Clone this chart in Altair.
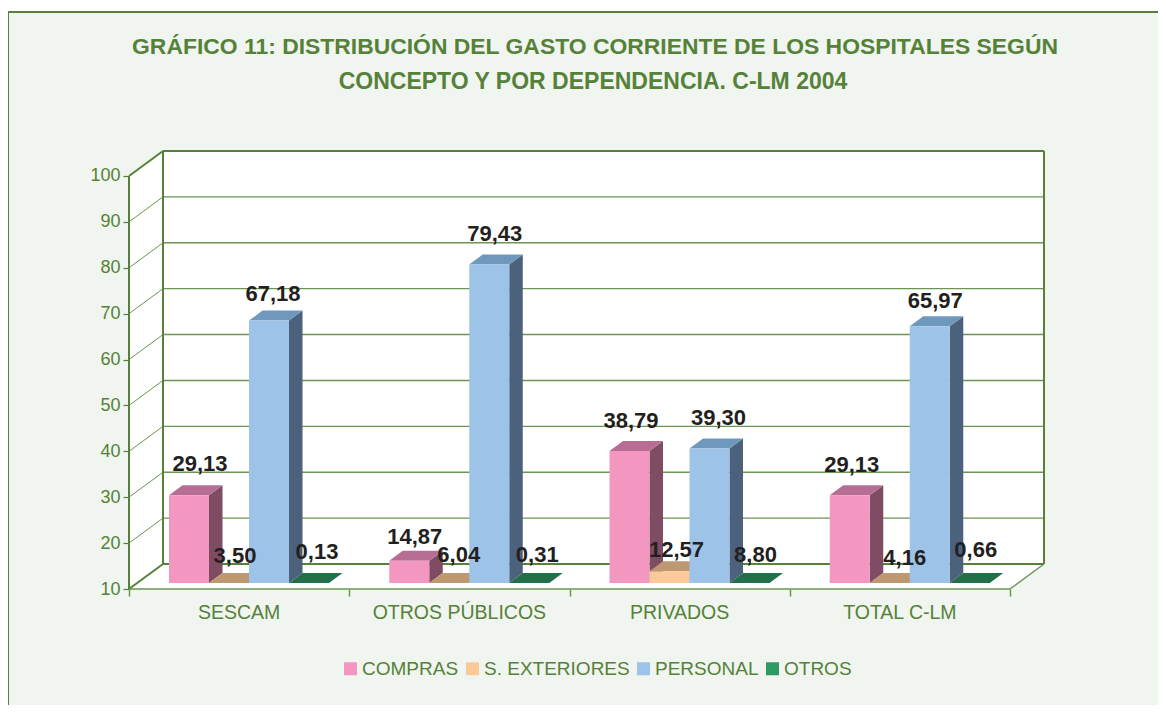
import altair as alt
import pandas as pd

# ---- values
CATEGORIES = ["SESCAM", "OTROS PÚBLICOS", "PRIVADOS", "TOTAL C-LM"]
SERIES = ["COMPRAS", "S. EXTERIORES", "PERSONAL", "OTROS"]
COMPRAS = [29.13, 14.87, 38.79, 29.13]
EXTERIORES = [3.50, 6.04, 12.57, 4.16]
PERSONAL = [67.18, 79.43, 39.30, 65.97]
OTROS = [0.13, 0.31, 8.80, 0.66]
VALUES = [COMPRAS, EXTERIORES, PERSONAL, OTROS]
Y_TICKS = [10, 20, 30, 40, 50, 60, 70, 80, 90, 100]
TITLE_LINES = ["GRÁFICO 11: DISTRIBUCIÓN DEL GASTO CORRIENTE DE LOS HOSPITALES SEGÚN",
               "CONCEPTO Y POR DEPENDENCIA. C-LM 2004"]

# ---- style
FRONT = ["#F497C0", "#FDC998", "#9DC3E8", "#2E9963"]
SIDE = ["#7F4D63", "#8F6F50", "#4B617C", "#1B5C3C"]
TOP = ["#B76E94", "#BE9870", "#6F98BD", "#217049"]
GREEN = "#558139"
GRID = "#6C9452"
BG = "#F0F5EF"
INK = "#231F20"
FONT = "Liberation Sans"
W, H = 1150, 693
PX_X, PX_Y = 220.25, 4.589      # pixels per category / per value unit
WALL_DX, WALL_DY = 34 / PX_X, 25 / PX_Y
BAR_W, BAR_START = 40 / PX_X, 40 / PX_X
DEPTH_DX, DEPTH_DY = 13.5 / PX_X, 10 / PX_Y
BASE = 10
BAR_LIFT = 6 / PX_Y
LABEL_DX = [[11, 5.5, 1.5, 2], [6, 9.5, 7, 15], [4, 5.5, 9, 5.5], [8, 8, 6, 6]]
LABEL_UP = [[30, 23, 29, 29], [26, 27, 20, 24], [26, 29, 30, 24], [30, 27, 27, 32]]

xs = alt.Scale(domain=[-121 / PX_X, (8 + W - 129) / PX_X], range=[0, W], nice=False, zero=False)
ys = alt.Scale(domain=[10 - (12 + H - 589) / PX_Y, 100 + (176 - 12) / PX_Y], range=[H, 0], nice=False, zero=False)

xaxis = alt.Axis(values=[0, 1, 2, 3, 4], labels=False, domain=False, grid=False, ticks=True,
                 tickColor=GRID, tickSize=7, tickWidth=1.5, offset=-(12 + H - 589), title=None)
yaxis = alt.Axis(values=Y_TICKS, domain=False, grid=False, tickColor=GREEN, tickSize=6, tickWidth=1.2,
                 labelColor=GREEN, labelFont=FONT, labelFontSize=18, labelPadding=3,
                 offset=-121, title=None, labelFlush=False, labelOverlap=False)


def X(f="x"):
    return alt.X(f"{f}:Q", scale=xs, axis=xaxis, title=None)


def Y(f="y"):
    return alt.Y(f"{f}:Q", scale=ys, axis=yaxis, title=None)


def rules(rows, color, width):
    return alt.Chart(pd.DataFrame(rows, columns=["x", "x2", "y", "y2"])).mark_rule(
        color=color, strokeWidth=width
    ).encode(x=X(), x2="x2:Q", y=Y(), y2="y2:Q")


# ---- walls and floor
back = alt.Chart(pd.DataFrame([{"x": WALL_DX, "x2": 4 + WALL_DX, "y": BASE + WALL_DY, "y2": 100 + WALL_DY}])).mark_rect(
    fill="white").encode(x=X(), x2="x2:Q", y=Y(), y2="y2:Q")
left = alt.Chart(pd.DataFrame([{"x": 0, "y": BASE, "y2": 100}, {"x": WALL_DX, "y": BASE + WALL_DY, "y2": 100 + WALL_DY}])).mark_area(
    fill="white", orient="vertical").encode(x=X(), y=Y(), y2="y2:Q")
floor = alt.Chart(pd.DataFrame([{"y": BASE, "x": 0, "x2": 4}, {"y": BASE + WALL_DY, "x": WALL_DX, "x2": 4 + WALL_DX}])).mark_area(
    fill="white", orient="horizontal").encode(y=Y(), x=X(), x2="x2:Q")

mid = [t for t in Y_TICKS if 10 < t < 100]
grid_back = rules([[WALL_DX, 4 + WALL_DX, t + WALL_DY, t + WALL_DY] for t in mid], GRID, 1.4)
grid_left = rules([[0, WALL_DX, t, t + WALL_DY] for t in mid], GRID, 1)
frame_thick = rules([
    [WALL_DX, 4 + WALL_DX, 100 + WALL_DY, 100 + WALL_DY],
    [WALL_DX, 4 + WALL_DX, BASE + WALL_DY, BASE + WALL_DY],
    [WALL_DX, WALL_DX, BASE + WALL_DY, 100 + WALL_DY],
    [4 + WALL_DX, 4 + WALL_DX, BASE + WALL_DY, 100 + WALL_DY],
    [0, 0, BASE, 100],
    [0, WALL_DX, BASE, BASE + WALL_DY],
    [0, WALL_DX, 100, 100 + WALL_DY],
], GREEN, 2)
frame_thin = rules([
    [0, 4, BASE, BASE],
    [4, 4 + WALL_DX, BASE, BASE + WALL_DY],
], GRID, 1.4)

# outer border: only the top and left edges are visible in the reference
x_min, x_max = xs.domain
y_min, y_max = ys.domain
border = rules([
    [x_min, x_max, y_max, y_max],
    [x_min, x_min, y_min, y_max],
], GREEN, 2)

layers = [back, left, floor, grid_back, grid_left, frame_thick, frame_thin, border]

# ---- 3D bars, drawn left to right so nearer faces overlap correctly
color_enc = alt.Color(
    "serie:N",
    scale=alt.Scale(domain=SERIES, range=FRONT),
    legend=alt.Legend(orient="none", legendX=333, legendY=647, direction="horizontal", columns=4,
                      columnPadding=4, title=None, symbolType="square", symbolSize=169,
                      symbolStrokeWidth=0, symbolOpacity=1, labelOffset=2, labelFont=FONT, labelFontSize=19,
                      labelColor=GREEN, labelLimit=300),
)
for s, name in enumerate(SERIES):
    front_rows, side_rows, top_rows = [], [], []
    for g, v in enumerate(VALUES[s]):
        x0 = g + BAR_START + s * BAR_W
        x1 = x0 + BAR_W
        y0 = BASE + BAR_LIFT
        y1 = max(v, BASE) + BAR_LIFT
        front_rows.append({"x": x0, "x2": x1, "y": y0, "y2": y1, "serie": name})
        side_rows += [{"k": g, "x": x1, "y": y0, "y2": y1},
                      {"k": g, "x": x1 + DEPTH_DX, "y": y0 + DEPTH_DY, "y2": y1 + DEPTH_DY}]
        top_rows += [{"k": g, "y": y1, "x": x0, "x2": x1},
                     {"k": g, "y": y1 + DEPTH_DY, "x": x0 + DEPTH_DX, "x2": x1 + DEPTH_DX}]
    layers.append(alt.Chart(pd.DataFrame(side_rows)).mark_area(fill=SIDE[s], orient="vertical").encode(
        x=X(), y=Y(), y2="y2:Q", detail="k:N"))
    layers.append(alt.Chart(pd.DataFrame(top_rows)).mark_area(fill=TOP[s], orient="horizontal").encode(
        y=Y(), x=X(), x2="x2:Q", detail="k:N"))
    layers.append(alt.Chart(pd.DataFrame(front_rows)).mark_rect().encode(
        x=X(), x2="x2:Q", y=Y(), y2="y2:Q", color=color_enc))

# ---- value labels
label_rows = []
for s in range(4):
    for g, v in enumerate(VALUES[s]):
        label_rows.append({
            "x": g + BAR_START + (s + 0.5) * BAR_W + LABEL_DX[s][g] / PX_X,
            "y": max(v, BASE) + BAR_LIFT + LABEL_UP[s][g] / PX_Y,
            "t": f"{v:.2f}".replace(".", ","),
        })
layers.append(alt.Chart(pd.DataFrame(label_rows)).mark_text(
    font=FONT, fontWeight="bold", fontSize=22, color=INK, align="center", baseline="middle", dy=-1
).encode(x=X(), y=Y(), text="t:N"))

# ---- category labels
cat_df = pd.DataFrame({"x": [i + 0.5 for i in range(4)], "y": [BASE] * 4, "t": CATEGORIES})
layers.append(alt.Chart(cat_df).mark_text(
    font=FONT, fontSize=19.5, color=GREEN, align="center", baseline="middle", dy=24
).encode(x=X(), y=Y(), text="t:N"))

# ---- title
title_df = pd.DataFrame({"t": TITLE_LINES, "row": [0, 1]})
layers.append(alt.Chart(title_df).transform_filter("datum.row == 0").mark_text(
    font=FONT, fontWeight="bold", fontSize=22.9, color=GREEN, align="center", baseline="middle"
).encode(x=alt.value(587), y=alt.value(35), text="t:N"))
layers.append(alt.Chart(title_df).transform_filter("datum.row == 1").mark_text(
    font=FONT, fontWeight="bold", fontSize=23, color=GREEN, align="center", baseline="middle"
).encode(x=alt.value(585), y=alt.value(70), text="t:N"))

chart = alt.layer(*layers).properties(
    width=W, height=H,
    autosize=alt.AutoSizeParams(type="none"),
    padding={"left": 0, "top": 4, "right": 0, "bottom": 0},
    background="white",
).configure_view(fill=BG, stroke=None)

chart.save("out.html", embed_options={"renderer": "svg", "actions": False})
